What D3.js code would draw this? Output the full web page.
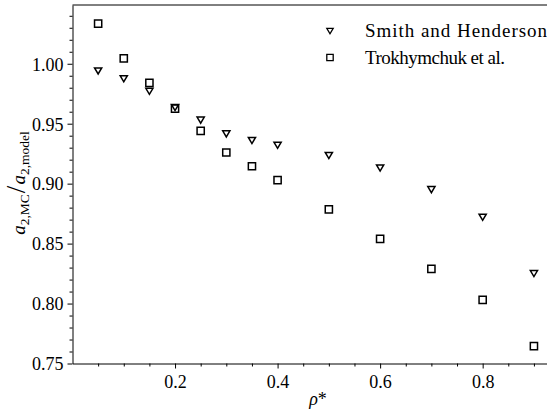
<!DOCTYPE html>
<html>
<head>
<meta charset="utf-8">
<script src="https://cdn.jsdelivr.net/npm/d3@7"></script>
<style>
  html, body { margin: 0; padding: 0; background: #fff; }
</style>
</head>
<body>
<svg id="chart" width="547" height="417"></svg>
<script>
// Reduced density values
const density = [0.05, 0.1, 0.15, 0.2, 0.25, 0.3, 0.35, 0.4, 0.5, 0.6, 0.7, 0.8, 0.9];
// Ratio a2,MC / a2,model for each model
const smithHenderson = [0.994, 0.9875, 0.977, 0.9635, 0.953, 0.9415, 0.936, 0.932, 0.9235, 0.913, 0.895, 0.872, 0.825];
const trokhymchuk = [1.0335, 1.0045, 0.984, 0.9625, 0.944, 0.926, 0.9145, 0.903, 0.8785, 0.854, 0.829, 0.803, 0.7645];
const seriesNames = ["Smith and Henderson", "Trokhymchuk et al."];
const xTickValues = [0.2, 0.4, 0.6, 0.8];
const yTickValues = [0.75, 0.80, 0.85, 0.90, 0.95, 1.00];

const svg = d3.select("#chart");
const plotLeft = 72.5, plotTop = 5, plotBottom = 363.5, plotRight = 557;

const x = d3.scaleLinear().domain([0, 0.945]).range([plotLeft, plotRight]);
const y = d3.scaleLinear().domain([0.75, 1.049]).range([plotBottom, plotTop]);

// Minor tick positions
const xMinor = d3.range(1, 19).map(i => +(i * 0.05).toFixed(2)).filter(v => !xTickValues.some(t => Math.abs(t - v) < 1e-9));
const yMinor = d3.range(75, 105).map(i => +(i * 0.01).toFixed(2)).filter(v => !yTickValues.some(t => Math.abs(t - v) < 1e-9));

// Axes
const xAxis = svg.append("g").attr("transform", `translate(0,${plotBottom})`)
  .call(d3.axisBottom(x).tickValues(xTickValues).tickFormat(d3.format(".1f")).tickSize(5).tickSizeOuter(0));
svg.append("g").attr("transform", `translate(0,${plotBottom})`)
  .call(d3.axisBottom(x).tickValues(xMinor).tickFormat("").tickSize(3).tickSizeOuter(0))
  .select(".domain").remove();

const yAxis = svg.append("g").attr("transform", `translate(${plotLeft},0)`)
  .call(d3.axisLeft(y).tickValues(yTickValues).tickFormat(d3.format(".2f")).tickSize(5).tickSizeOuter(0));
svg.append("g").attr("transform", `translate(${plotLeft},0)`)
  .call(d3.axisLeft(y).tickValues(yMinor).tickFormat("").tickSize(3).tickSizeOuter(0))
  .select(".domain").remove();

svg.selectAll(".domain").attr("stroke", "#000").attr("stroke-width", 1);
svg.selectAll(".tick line").attr("stroke", "#000").attr("stroke-width", 1);
xAxis.selectAll(".tick text").attr("y", 7).attr("dy", "0.95em");
yAxis.selectAll(".tick text").attr("x", -9).attr("dy", "0.35em");
svg.selectAll("g").attr("font-size", 18);

// Top frame line
svg.append("line")
  .attr("x1", plotLeft).attr("x2", plotRight).attr("y1", plotTop).attr("y2", plotTop)
  .attr("stroke", "#000").attr("stroke-width", 1);

// Markers
const triPath = s => `M${-s},${-s * 0.85}L${s},${-s * 0.85}L0,${s * 0.85}Z`;
const sqPath = s => `M${-s},${-s}H${s}V${s}H${-s}Z`;

const plot = svg.append("g");
plot.selectAll("path.sh").data(density.map((d, i) => [d, smithHenderson[i]]))
  .join("path").attr("class", "sh")
  .attr("d", triPath(3.6))
  .attr("transform", d => `translate(${x(d[0])},${y(d[1])})`)
  .attr("fill", "none").attr("stroke", "#000").attr("stroke-width", 1.5);

plot.selectAll("path.tr").data(density.map((d, i) => [d, trokhymchuk[i]]))
  .join("path").attr("class", "tr")
  .attr("d", sqPath(3.6))
  .attr("transform", d => `translate(${x(d[0])},${y(d[1])})`)
  .attr("fill", "none").attr("stroke", "#000").attr("stroke-width", 1.5);

// Legend
const legend = svg.append("g");
const legendItems = [
  { name: seriesNames[0], path: triPath(3.2), yPos: 31, len: 182 },
  { name: seriesNames[1], path: sqPath(3.2), yPos: 57.5, len: 140 }
];
legendItems.forEach(it => {
  legend.append("path").attr("d", it.path)
    .attr("transform", `translate(330,${it.yPos})`)
    .attr("fill", "none").attr("stroke", "#000").attr("stroke-width", 1.3);
  legend.append("text").attr("x", 365).attr("y", it.yPos + 6)
    .attr("textLength", it.len).attr("lengthAdjust", "spacing")
    .attr("font-size", 19).text(it.name);
});

// Axis titles
svg.append("text").attr("x", 318).attr("y", 405)
  .attr("text-anchor", "middle").attr("font-size", 18)
  .html('<tspan font-style="italic">ρ</tspan>*');

const yl = svg.append("text")
  .attr("transform", "translate(25,183) rotate(-90)")
  .attr("text-anchor", "middle").attr("font-size", 19);
yl.append("tspan").attr("font-style", "italic").text("a");
yl.append("tspan").attr("font-size", 13.5).attr("dy", 3.5).text("2,MC");
yl.append("tspan").attr("dy", -3.5).attr("font-size", 27).attr("dx", 1).text("/");
yl.append("tspan").attr("font-style", "italic").attr("dx", 1).text("a");
yl.append("tspan").attr("font-size", 13.5).attr("dy", 3.5).text("2,model");

// Serif type throughout
svg.selectAll("text").style("font-family", "Liberation Serif").attr("fill", "#000");
</script>
</body>
</html>
